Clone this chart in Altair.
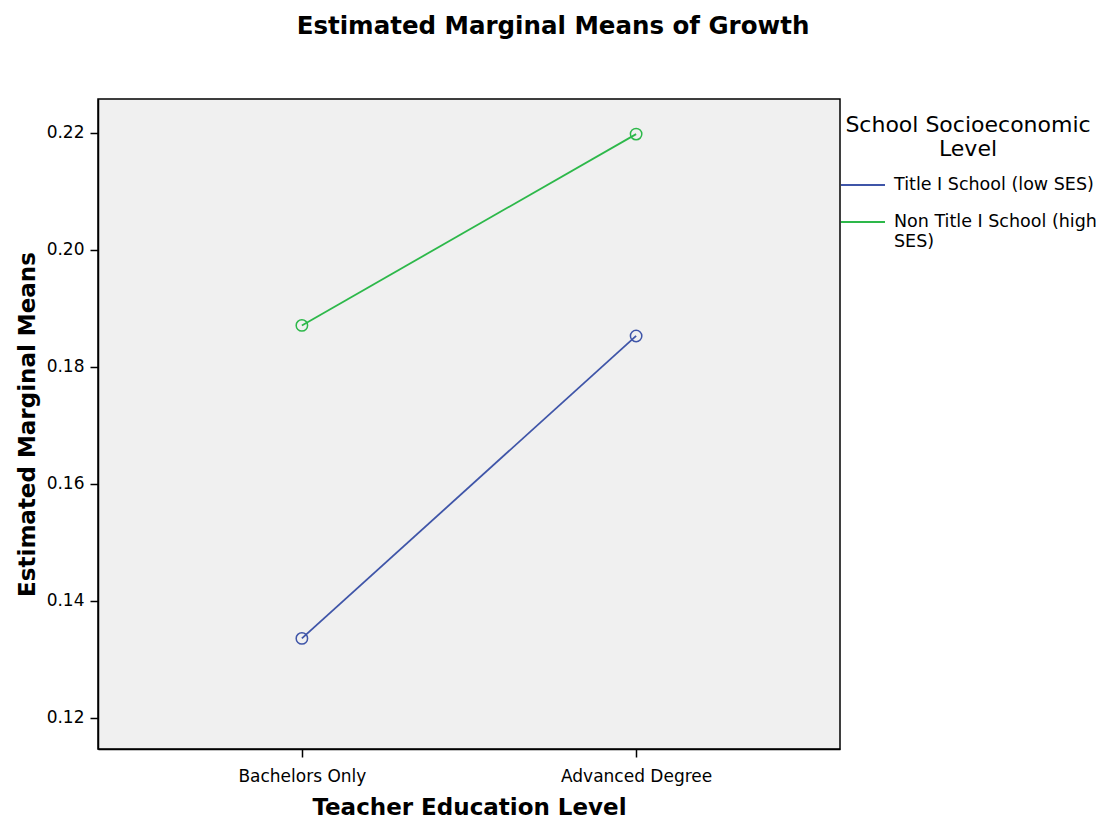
import altair as alt
import pandas as pd

levels = ["Bachelors Only", "Advanced Degree"]
groups = ["Title I School (low SES)", "Non Title I School (high SES)"]
title1_means = [0.1336, 0.1853]
nontitle1_means = [0.1871, 0.2198]
y_ticks = [0.12, 0.14, 0.16, 0.18, 0.20, 0.22]
colors = ["#3F55A8", "#2DB84A"]

rows = []
for lvl, v in zip(levels, title1_means):
    rows.append({"level": lvl, "group": groups[0], "mean": v})
for lvl, v in zip(levels, nontitle1_means):
    rows.append({"level": lvl, "group": groups[1], "mean": v})
df = pd.DataFrame(rows)

FONT = "DejaVu Sans"

x_enc = alt.X("level:N", sort=levels, scale=alt.Scale(type="point", padding=0.61),
              axis=alt.Axis(title="Teacher Education Level", labelAngle=0, tickSize=8,
                            labelPadding=11, titlePadding=12))
y_enc = alt.Y("mean:Q", scale=alt.Scale(domain=[0.1147, 0.2258], nice=False, zero=False),
              axis=alt.Axis(title="Estimated Marginal Means", values=y_ticks, format=".2f",
                            tickSize=8, labelPadding=6, titlePadding=7, grid=False))
color_scale = alt.Scale(domain=groups, range=colors)

lines = alt.Chart(df).mark_line(strokeWidth=1.8).encode(
    x=x_enc, y=y_enc,
    color=alt.Color("group:N", scale=color_scale, sort=groups,
                    legend=alt.Legend(
                        title=["School Socioeconomic", "Level"],
                        orient="none", legendX=742, legendY=16,
                        symbolType="stroke", symbolSize=1936, symbolStrokeWidth=2,
                        labelExpr="datum.label == 'Non Title I School (high SES)' ? ['Non Title I School (high', 'SES)'] : datum.label",
                        titleAlign="center", titleAnchor="middle", titleLimit=600,
                        rowPadding=5, titlePadding=1, labelOffset=8,
                    )),
)
points = alt.Chart(df).mark_point(shape="circle", filled=False, size=130, strokeWidth=1.5,
                                  opacity=1).encode(
    x=x_enc, y=y_enc,
    color=alt.Color("group:N", scale=color_scale, legend=None),
)

chart = alt.layer(lines, points).properties(
    width=742, height=650,
    autosize=alt.AutoSizeParams(type="none"),
    padding={"left": 90, "top": 91, "right": 259, "bottom": 70},
    title=alt.TitleParams("Estimated Marginal Means of Growth", fontSize=24.5, fontWeight="bold",
                          font=FONT, color="black", offset=60, anchor="middle",
                          frame="group", dx=84),
).configure_view(
    fill="#F0F0F0", stroke="black", strokeWidth=1.5
).configure_axis(
    labelFont=FONT, labelFontSize=17, labelColor="black",
    titleFont=FONT, titleFontSize=23, titleFontWeight="bold", titleColor="black",
    domainColor="black", tickColor="black", domainWidth=1.5, tickWidth=1.5,
).configure_legend(
    titleFont=FONT, titleFontSize=22, titleFontWeight="normal", titleColor="black",
    labelFont=FONT, labelFontSize=17.5, labelColor="black", labelLimit=400,
)

chart.save("out.html", embed_options={"renderer": "svg", "actions": False})
